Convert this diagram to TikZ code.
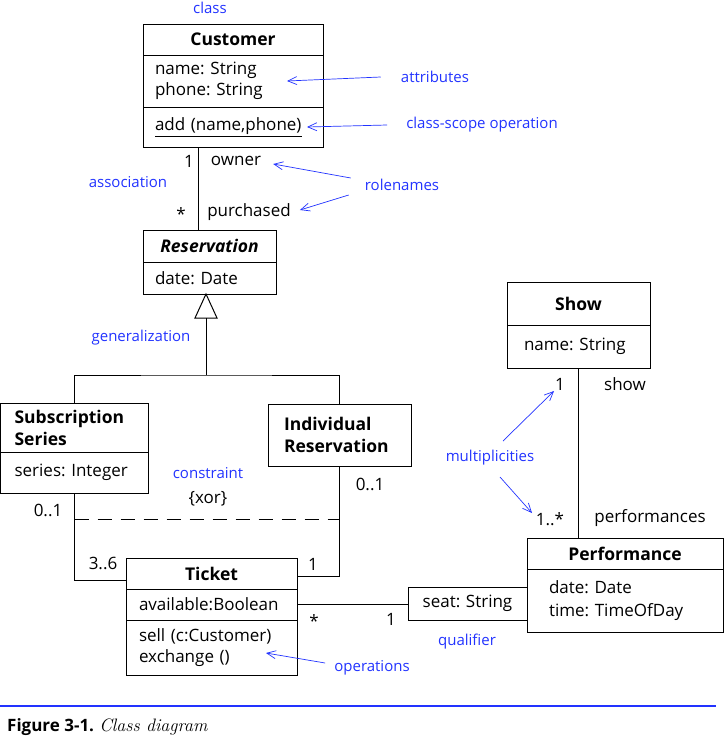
\documentclass[tikz,border=0pt]{standalone}
\usepackage{fontspec}
\setsansfont{Open Sans}
\usetikzlibrary{arrows.meta,positioning}
\definecolor{hint}{RGB}{34,51,255}
\frenchspacing

\tikzset{
  box/.style={draw, line width=1pt, anchor=north west, inner ysep=0pt, outer sep=0pt},
  head/.style={box, inner xsep=0pt, font=\sffamily\fontsize{17.5}{22}\selectfont\bfseries},
  slot/.style={box, inner xsep=12pt, align=left, font=\sffamily\fontsize{17}{21}\selectfont},
  txt/.style={inner sep=0pt, font=\sffamily\fontsize{17}{20}\selectfont},
  hint/.style={inner sep=0pt, text=hint, font=\sffamily\fontsize{15}{18}\selectfont},
  pointer/.style={draw=hint, line width=0.7pt, -{Straight Barb[length=9pt,width=8pt]}},
  link/.style={line width=1pt},
  xor/.style={link, dash pattern=on 14pt off 9pt},
}

\begin{document}
\begin{tikzpicture}[x=1pt,y=-1pt,font=\sffamily]
\useasboundingbox (0,0) rectangle (724,739);

% classes
\node[head, minimum width=180pt, minimum height=31pt] (cust) at (143,24) {Customer};
\node[slot, text width=156pt, minimum height=52pt] (custattr) at (cust.south west) {name: String\\phone: String};
\node[slot, text width=156pt, minimum height=40pt] (custop) at (custattr.south west) {\underline{add (name,phone)}};

\node[head, minimum width=133pt, minimum height=32pt, font=\sffamily\fontsize{17.5}{22}\selectfont\bfseries\itshape] (res) at (143,230) {Reservation};
\node[slot, text width=109pt, minimum height=32pt] (resattr) at (res.south west) {date: Date};

\node[head, text width=120pt, inner xsep=14pt, align=left, minimum height=49pt] (sub) at (0.6,403) {Subscription\\Series};
\node[slot, text width=120pt, inner xsep=14pt, minimum height=41pt] (subattr) at (sub.south west) {series: Integer};

\node[head, text width=111pt, inner xsep=16pt, align=left, minimum height=62pt] (ind) at (268,404) {Individual\\Reservation};

\node[head, minimum width=171pt, minimum height=31pt] (tkt) at (126,558) {Ticket};
\node[slot, text width=145pt, inner xsep=13pt, minimum height=31pt] (tktattr) at (tkt.south west) {available:Boolean};
\node[slot, text width=145pt, inner xsep=13pt, minimum height=55pt] (tktop) at (tktattr.south west) {sell (c:Customer)\\exchange ()};

\node[head, minimum width=143pt, minimum height=43pt] (show) at (507,282) {Show};
\node[slot, text width=109pt, inner xsep=17pt, minimum height=43pt] (showattr) at (show.south west) {name: String};

\node[head, minimum width=196pt, minimum height=31pt] (perf) at (527,538) {Performance};
\node[slot, text width=152pt, inner xsep=22pt, minimum height=63pt, font=\sffamily\fontsize{17}{23}\selectfont] (perfattr) at (perf.south west) {date: Date\\time: TimeOfDay};

\node[slot, text width=95pt, align=center, minimum height=33pt] (qual) at (408,587) {seat: String};

% associations
\draw[link] ([xshift=55pt]custop.south west) coordinate (assoc) -- (assoc |- res.north);
\draw[link] (subattr.south) |- ([yshift=-7pt]tkt.west);
\draw[link] (ind.south) |- ([yshift=-3pt]tkt.east);
\draw[xor] ([yshift=-26pt]subattr.south) coordinate (xorl) -- (xorl -| ind.south);
\draw[link] (tktattr.east) -- (tktattr.east -| qual.west);
\draw[link] (showattr.south) -- (showattr.south |- perf.north);

% generalization
\coordinate (tip) at ([xshift=63pt]resattr.south west);
\coordinate (bar) at (206,375);
\draw[link] (tip) -- ++(-11,24) -- ++(22,0) -- cycle;
\draw[link] (bar) -- ([yshift=-24pt]tip);
\draw[link] (sub.north) |- (bar) -| (ind.north);

% ends
\node[txt] (own1) at (189,161) {1};
\node[txt] (owner) at (236,161) {owner};
\node[txt] (resmany) at (181,214) {*};
\node[txt] (purch) at (249,212) {purchased};
\node[txt] (xortxt) at (208,499) {\{xor\}};
\node[txt] (sub01) at (48,510) {0..1};
\node[txt] (tkt36) at (103,563) {3..6};
\node[txt] (ind01) at (370,484) {0..1};
\node[txt] (tkt1) at (313,564) {1};
\node[txt] (tktmany) at (314,621) {*};
\node[txt] (qual1) at (391,619) {1};
\node[txt] (show1) at (560,384) {1};
\node[txt] (showrole) at (625,384) {show};
\node[txt] (perfmany) at (550,519) {1..*};
\node[txt] (perfrole) at (650,518) {performances};

% notes
\node[hint] (classnote) at (210,8) {class};
\node[hint] (attrnote) at (435,77) {attributes};
\node[hint] (scopenote) at (482,125) {class-scope operation};
\node[hint] (assocnote) at (128,182) {association};
\node[hint] (rolenote) at (402,185) {rolenames};
\node[hint] (gennote) at (141,338) {generalization};
\node[hint] (consnote) at (208,473) {constraint};
\node[hint] (opnote) at (372,668) {operations};
\node[hint] (qualnote) at (467,642) {qualifier};
\node[hint] (multnote) at (490,458) {multiplicities};

\coordinate (attrtip) at ([xshift=-36pt]custattr.east);
\coordinate (scopetip) at ([xshift=-16pt]custop.east);
\coordinate (optip) at (266,653);
\coordinate (multtop) at (503,441);
\coordinate (multbot) at (500,477);
\draw[pointer] ([xshift=-20pt]attrnote.west) -- (attrtip);
\draw[pointer] ([xshift=-19pt]scopenote.west) -- (scopetip);
\draw[pointer] ([xshift=-14pt,yshift=7pt]rolenote.west) -- ([xshift=12pt,yshift=-3pt]owner.east);
\draw[pointer] ([xshift=-16pt,yshift=-10pt]rolenote.west) -- ([xshift=9pt,yshift=2pt]purch.east);
\draw[pointer] ([xshift=-9pt,yshift=5pt]opnote.west) -- (optip);
\draw[pointer] (multtop) -- ([xshift=-6pt,yshift=-7pt]show1.center);
\draw[pointer] (multbot) -- ([xshift=-18pt,yshift=6pt]perfmany.center);

% caption
\draw[draw=hint, line width=2pt] (0,706) coordinate (rulel) -- (716,706);
\node[anchor=west, inner sep=0pt] (caption) at (7,727)
  {{\sffamily\bfseries\fontsize{17}{20}\selectfont Figure 3-1.}\ \ {\rmfamily\itshape\fontsize{18}{20}\selectfont Class diagram}};
\end{tikzpicture}
\end{document}
